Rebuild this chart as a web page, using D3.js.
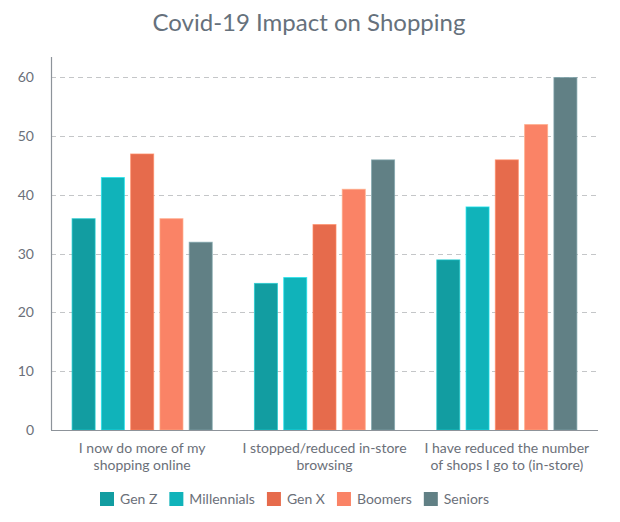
<!DOCTYPE html>
<html><head><meta charset="utf-8">
<script src="https://cdn.jsdelivr.net/npm/d3@7"></script>
<style>body{margin:0;background:#fff;} svg{display:block;font-family:Lato,"Open Sans",sans-serif;}</style>
</head><body>
<svg id="chart" width="620" height="522"></svg>
<script>
const title = "Covid-19 Impact on Shopping";
const categories = [
  ["I now do more of my", "shopping online"],
  ["I stopped/reduced in-store", "browsing"],
  ["I have reduced the number", "of shops I go to (in-store)"]
];
const seriesNames = ["Gen Z", "Millennials", "Gen X", "Boomers", "Seniors"];
const seriesColors = ["#129da1", "#10b3ba", "#e66b4c", "#fa8366", "#618085"];
const genZ = [36, 25, 29];
const millennials = [43, 26, 38];
const genX = [47, 35, 46];
const boomers = [36, 41, 52];
const seniors = [32, 46, 60];
const yTicks = [0, 10, 20, 30, 40, 50, 60];

const seriesValues = [genZ, millennials, genX, boomers, seniors];
const svg = d3.select("#chart");
const mLeft = 51, mRight = 598, mBottom = 430, mTop = 77, axisTop = 57;

const x0 = d3.scaleBand().domain(d3.range(categories.length)).range([mLeft, mRight]).paddingInner(0.226).paddingOuter(0.113);
const x1 = d3.scaleBand().domain(d3.range(seriesNames.length)).range([0, x0.bandwidth()]).paddingInner(0.18).paddingOuter(0);
const y = d3.scaleLinear().domain([0, 60]).range([mBottom, mTop]);

// title
svg.append("text").attr("x", 309).attr("y", 31).attr("text-anchor", "middle")
  .attr("font-size", 24).attr("fill", "#66717c").text(title);

// gridlines
svg.append("g").selectAll("line").data(yTicks.filter(t => t > 0)).join("line")
  .attr("x1", mLeft).attr("x2", mRight).attr("y1", d => Math.round(y(d)) + 0.5).attr("y2", d => Math.round(y(d)) + 0.5)
  .attr("stroke", "#c4c6c8").attr("stroke-dasharray", "5,4");

// y tick labels
svg.append("g").selectAll("text").data(yTicks).join("text")
  .attr("x", 34).attr("y", d => y(d) + 5).attr("text-anchor", "end")
  .attr("font-size", 14).attr("fill", "#6b7079").text(d => d);

// bars
const groups = svg.append("g").selectAll("g").data(categories).join("g")
  .attr("transform", (d, i) => `translate(${x0(i)},0)`);
groups.selectAll("rect").data((d, i) => seriesValues.map((s, j) => ({j, v: s[i]}))).join("rect")
  .attr("x", d => x1(d.j) + 0.5).attr("width", x1.bandwidth() - 1)
  .attr("y", d => y(d.v) + 0.5).attr("height", d => mBottom - y(d.v) - 0.5)
  .attr("fill", d => seriesColors[d.j])
  .attr("stroke", d => d3.color(seriesColors[d.j]).brighter(0.7))
  .attr("stroke-opacity", 0.7);

// axes lines
svg.append("line").attr("x1", mLeft + 0.5).attr("x2", mLeft + 0.5).attr("y1", axisTop).attr("y2", mBottom)
  .attr("stroke", "#8d939a").attr("stroke-width", 1.2);
svg.append("line").attr("x1", mLeft).attr("x2", mRight).attr("y1", mBottom + 0.5).attr("y2", mBottom + 0.5)
  .attr("stroke", "#8d939a").attr("stroke-width", 1.2);

// x labels
const xl = svg.append("g").selectAll("text").data(categories).join("text")
  .attr("x", (d, i) => x0(i) + x0.bandwidth() / 2).attr("y", 453)
  .attr("text-anchor", "middle").attr("font-size", 14).attr("fill", "#6b7079");
xl.selectAll("tspan").data(d => d).join("tspan")
  .attr("x", function() { return this.parentNode.getAttribute("x"); })
  .attr("dy", (d, i) => i === 0 ? 0 : 17).text(d => d);

// legend
const leg = svg.append("g");
let lx = 100;
seriesNames.forEach((n, i) => {
  leg.append("rect").attr("x", lx).attr("y", 492).attr("width", 14).attr("height", 14).attr("fill", seriesColors[i]);
  const t = leg.append("text").attr("x", lx + 20).attr("y", 504).attr("font-size", 14).attr("fill", "#6b7079").text(n);
  lx += 20 + t.node().getComputedTextLength() + 12;
});
</script>
</body></html>
